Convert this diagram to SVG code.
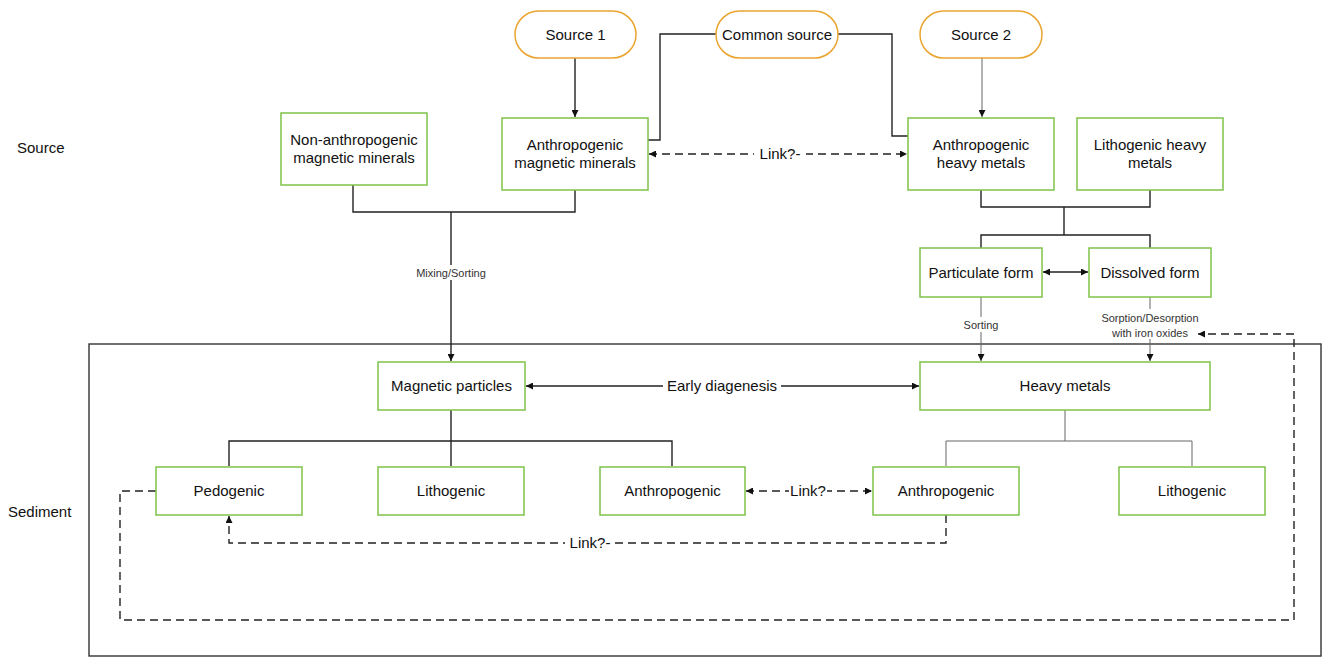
<svg xmlns="http://www.w3.org/2000/svg" width="1322" height="657" viewBox="0 0 1322 657">
<defs>
<marker id="ah" viewBox="0 0 10 10" refX="10" refY="5" markerWidth="7" markerHeight="7" orient="auto-start-reverse" markerUnits="userSpaceOnUse">
<path d="M0,0 L10,5 L0,10 z" fill="#111"/>
</marker>
<style>
text{font-family:"Liberation Sans",Arial,sans-serif;fill:#111;}
.t{font-size:15px;text-anchor:middle;}
.s{font-size:11px;text-anchor:middle;fill:#333;}
.lab{font-size:15px;}
.box{fill:#fff;stroke:#7fc24a;stroke-width:1.5;}
.src{fill:#fff;stroke:#eaa530;stroke-width:1.5;}
.ln{fill:none;stroke:#222;stroke-width:1.4;}
.gl{fill:none;stroke:#666;stroke-width:1;}
.dl{fill:none;stroke:#222;stroke-width:1.4;stroke-dasharray:8,5;}
.cont{fill:none;stroke:#333;stroke-width:1.4;}
.bg{fill:#fff;}
</style>
</defs>
<rect width="1322" height="657" fill="#fff"/>
<text class="lab" x="17" y="153">Source</text>
<text class="lab" x="8" y="517">Sediment</text>
<rect class="cont" x="89" y="344" width="1232" height="312"/>

<g id="connectors">
<path class="ln" d="M575,58 V117" marker-end="url(#ah)"/>
<path class="ln" d="M716,34 H660 V140 H648"/>
<path class="ln" d="M838,34 H892 V136 H908"/>
<path class="gl" d="M982,58 V117" marker-end="url(#ah)"/>
<path class="dl" d="M649,154 H907" marker-start="url(#ah)" marker-end="url(#ah)"/>
<rect class="bg" x="754" y="145" width="52" height="18"/>
<text class="t" x="780" y="159">Link?-</text>
<path class="ln" d="M353,185 V212 H575 V190"/>
<path class="ln" d="M451,212 V361" marker-end="url(#ah)"/>
<rect class="bg" x="413" y="265" width="76" height="15"/>
<text class="s" x="451" y="277">Mixing/Sorting</text>
<path class="ln" d="M981,190 V207 H1150 V190"/>
<path class="ln" d="M1064,207 V235"/>
<path class="ln" d="M981,248 V235 H1150 V248"/>
<path class="ln" d="M1043,272 H1088" marker-start="url(#ah)" marker-end="url(#ah)"/>
<path class="gl" d="M981,297 V361" marker-end="url(#ah)"/>
<rect class="bg" x="960" y="317" width="42" height="15"/>
<text class="s" x="981" y="329">Sorting</text>
<path class="gl" d="M1150,297 V361" marker-end="url(#ah)"/>
<rect class="bg" x="1098" y="309" width="104" height="30"/>
<text class="s" x="1150" y="322">Sorption/Desorption</text>
<text class="s" x="1150" y="337">with iron oxides</text>
<path class="ln" d="M526,386 H919" marker-start="url(#ah)" marker-end="url(#ah)"/>
<rect class="bg" x="663" y="377" width="118" height="18"/>
<text class="t" x="722" y="391">Early diagenesis</text>
<path class="ln" d="M451,410 V441"/>
<path class="ln" d="M229,466 V441 H672 V466"/>
<path class="ln" d="M451,441 V466"/>
<path class="gl" d="M1065,410 V441"/>
<path class="gl" d="M946,466 V441 H1192 V466"/>
<path class="dl" d="M746,491 H872" marker-start="url(#ah)" marker-end="url(#ah)"/>
<rect class="bg" x="789" y="482" width="38" height="18"/>
<text class="t" x="808" y="496">Link?</text>
<path class="dl" d="M946,515 V543 H229 V516" marker-end="url(#ah)"/>
<rect class="bg" x="565" y="534" width="50" height="18"/>
<text class="t" x="590" y="548">Link?-</text>
<path class="dl" d="M156,491 H120 V620 H1294 V334 H1198" marker-end="url(#ah)"/>
</g>

<g id="source1"><rect class="src" x="515" y="11" width="121" height="47" rx="23.5"/><text class="t" x="575.5" y="39.5">Source 1</text></g>
<g id="common-source"><rect class="src" x="716" y="11" width="122" height="47" rx="23.5"/><text class="t" x="777" y="39.5">Common source</text></g>
<g id="source2"><rect class="src" x="920" y="11" width="122" height="47" rx="23.5"/><text class="t" x="981" y="39.5">Source 2</text></g>

<g id="non-anthro-mag"><rect class="box" x="281" y="113" width="146" height="72"/><text class="t" x="354" y="145">Non-anthropogenic</text><text class="t" x="354" y="163">magnetic minerals</text></g>
<g id="anthro-mag"><rect class="box" x="502" y="118" width="146" height="72"/><text class="t" x="575" y="150">Anthropogenic</text><text class="t" x="575" y="168">magnetic minerals</text></g>
<g id="anthro-hm"><rect class="box" x="908" y="118" width="146" height="72"/><text class="t" x="981" y="150">Anthropogenic</text><text class="t" x="981" y="168">heavy metals</text></g>
<g id="litho-hm"><rect class="box" x="1077" y="118" width="146" height="72"/><text class="t" x="1150" y="150">Lithogenic heavy</text><text class="t" x="1150" y="168">metals</text></g>
<g id="particulate"><rect class="box" x="920" y="248" width="122" height="49"/><text class="t" x="981" y="277.5">Particulate form</text></g>
<g id="dissolved"><rect class="box" x="1089" y="248" width="122" height="49"/><text class="t" x="1150" y="277.5">Dissolved form</text></g>
<g id="magnetic-particles"><rect class="box" x="378" y="362" width="147" height="48"/><text class="t" x="451.5" y="391">Magnetic particles</text></g>
<g id="heavy-metals"><rect class="box" x="920" y="362" width="290" height="48"/><text class="t" x="1065" y="391">Heavy metals</text></g>
<g id="pedogenic"><rect class="box" x="156" y="467" width="146" height="48"/><text class="t" x="229" y="496">Pedogenic</text></g>
<g id="lithogenic-mag"><rect class="box" x="378" y="467" width="146" height="48"/><text class="t" x="451" y="496">Lithogenic</text></g>
<g id="anthro-mag-sed"><rect class="box" x="600" y="467" width="145" height="48"/><text class="t" x="672.5" y="496">Anthropogenic</text></g>
<g id="anthro-hm-sed"><rect class="box" x="873" y="467" width="146" height="48"/><text class="t" x="946" y="496">Anthropogenic</text></g>
<g id="lithogenic-hm"><rect class="box" x="1119" y="467" width="146" height="48"/><text class="t" x="1192" y="496">Lithogenic</text></g>
</svg>
